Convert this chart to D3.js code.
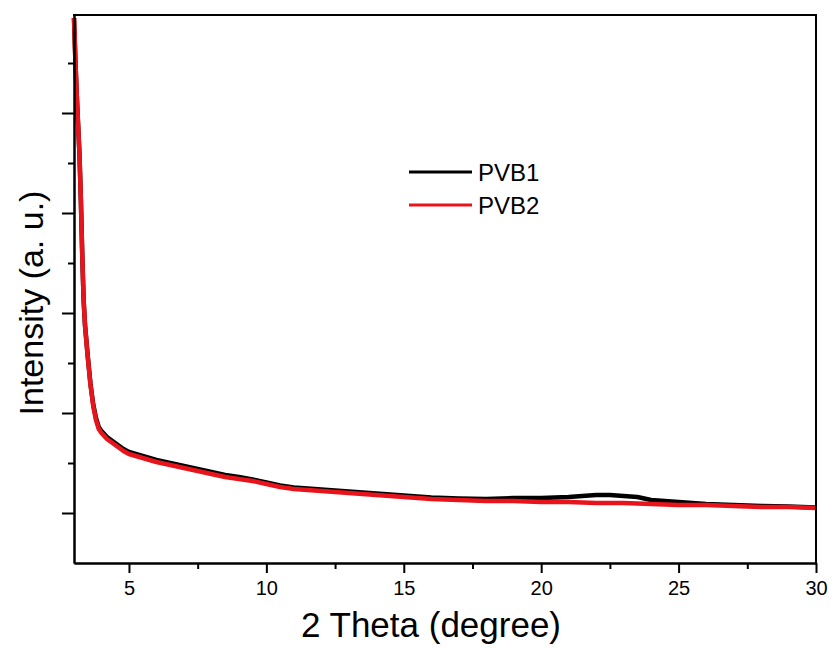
<!DOCTYPE html>
<html>
<head>
<meta charset="utf-8">
<script src="https://cdn.jsdelivr.net/npm/d3@7"></script>
<style>
  body { margin: 0; background: #fff; }
  text { font-family: "Liberation Sans", Arial, sans-serif; fill: #000; }
</style>
</head>
<body>
<div id="chart"></div>
<script>
// 2 theta (degree)
var theta = [3.0, 3.05, 3.1, 3.15, 3.2, 3.25, 3.3, 3.35, 3.4, 3.5, 3.6, 3.7, 3.8, 3.9,
  4.0, 4.2, 4.4, 4.6, 4.8, 5.0, 5.5, 6.0, 6.5, 7.0, 7.5, 8.0, 8.5, 9.0, 9.5, 10.0,
  10.5, 11, 12, 13, 14, 15, 16, 17, 18, 19, 20, 21, 21.5, 22, 22.5, 23, 23.5, 24,
  25, 26, 27, 28, 29, 30]

// intensity, arbitrary units
var pvb1 = [5950, 5530, 5180, 4880, 4580, 4130, 3580, 3130, 2880, 2570, 2290, 2085, 1950, 1860,
  1820, 1760, 1720, 1680, 1640, 1610, 1570, 1530, 1500, 1470, 1440, 1410, 1380, 1360, 1335, 1305,
  1275, 1255, 1235, 1215, 1195, 1175, 1155, 1145, 1140, 1150, 1150, 1160, 1170, 1180, 1180, 1170, 1160, 1130,
  1110, 1090, 1080, 1070, 1065, 1055]

var pvb2 = [5950, 5530, 5180, 4880, 4580, 4130, 3580, 3130, 2880, 2560, 2280, 2070, 1930, 1840,
  1800, 1740, 1700, 1660, 1620, 1590, 1550, 1510, 1480, 1450, 1420, 1390, 1360, 1340, 1320, 1290,
  1260, 1240, 1220, 1200, 1180, 1160, 1140, 1130, 1120, 1120, 1110, 1110, 1105, 1100, 1100, 1100, 1095, 1090,
  1080, 1080, 1070, 1060, 1060, 1050]

var seriesNames = ['PVB1', 'PVB2']
var seriesColors = ['#000000', '#e8141b']

var xMajor = [5, 10, 15, 20, 25, 30]
var xMinor = [7.5, 12.5, 17.5, 22.5, 27.5]
var yMajor = [1000, 2000, 3000, 4000, 5000]
var yMinor = [1500, 2500, 3500, 4500, 5500]

var width = 833, height = 648
var plotLeft = 74, plotRight = 816, plotTop = 15, plotBottom = 563

var svg = d3.select('#chart').append('svg')
  .attr('width', width)
  .attr('height', height)

svg.append('rect').attr('width', width).attr('height', height).attr('fill', '#fff')

var xScale = d3.scaleLinear().domain([3, 30]).range([plotLeft, plotRight])
var yScale = d3.scaleLinear().domain([500, 5980]).range([plotBottom, plotTop])

// curves
var rows = theta.map((t, i) => ({ x: t, a: pvb1[i], b: pvb2[i] }))
var lineA = d3.line().x(d => xScale(d.x)).y(d => yScale(d.a))
var lineB = d3.line().x(d => xScale(d.x)).y(d => yScale(d.b))

svg.append('path')
  .attr('d', lineA(rows))
  .attr('fill', 'none')
  .attr('stroke', seriesColors[0])
  .attr('stroke-width', 4.5)
  .attr('stroke-linejoin', 'round')

svg.append('path')
  .attr('d', lineB(rows))
  .attr('fill', 'none')
  .attr('stroke', seriesColors[1])
  .attr('stroke-width', 4.5)
  .attr('stroke-linejoin', 'round')

// axes
var xAxis = svg.append('g')
  .attr('transform', 'translate(0,' + plotBottom + ')')
  .call(d3.axisBottom(xScale).tickValues(xMajor).tickSize(10).tickPadding(8).tickSizeOuter(0))
svg.append('g')
  .attr('transform', 'translate(0,' + plotBottom + ')')
  .call(d3.axisBottom(xScale).tickValues(xMinor).tickSize(6).tickFormat('').tickSizeOuter(0))

svg.append('g')
  .attr('transform', 'translate(' + plotLeft + ',0)')
  .call(d3.axisLeft(yScale).tickValues(yMajor).tickSize(12).tickFormat('').tickSizeOuter(0))
svg.append('g')
  .attr('transform', 'translate(' + plotLeft + ',0)')
  .call(d3.axisLeft(yScale).tickValues(yMinor).tickSize(6).tickFormat('').tickSizeOuter(0))

svg.selectAll('.domain').attr('stroke', '#000').attr('stroke-width', 2)
svg.selectAll('.tick line').attr('stroke', '#000').attr('stroke-width', 2)
xAxis.attr('font-size', 20).attr('font-family', '"Liberation Sans", Arial, sans-serif')
xAxis.selectAll('.tick text').attr('font-size', 20)

// frame top and right
svg.append('line').attr('x1', plotLeft - 1).attr('x2', plotRight + 1).attr('y1', plotTop).attr('y2', plotTop)
  .attr('stroke', '#000').attr('stroke-width', 2)
svg.append('line').attr('x1', plotRight).attr('x2', plotRight).attr('y1', plotTop).attr('y2', plotBottom)
  .attr('stroke', '#000').attr('stroke-width', 2)

// axis titles
svg.append('text')
  .attr('x', 431).attr('y', 637)
  .attr('text-anchor', 'middle')
  .style('font-size', '35px')
  .text('2 Theta (degree)')

svg.append('text')
  .attr('transform', 'translate(43,303) rotate(-90)')
  .attr('text-anchor', 'middle')
  .style('font-size', '34px')
  .text('Intensity (a. u.)')

// legend
var legend = svg.append('g')
seriesNames.forEach((name, i) => {
  var y = 172 + i * 33
  legend.append('line')
    .attr('x1', 409).attr('x2', 472).attr('y1', y).attr('y2', y)
    .attr('stroke', seriesColors[i]).attr('stroke-width', 3)
  legend.append('text')
    .attr('x', 478).attr('y', y + 9)
    .style('font-size', '24px')
    .text(name)
})
</script>
</body>
</html>
